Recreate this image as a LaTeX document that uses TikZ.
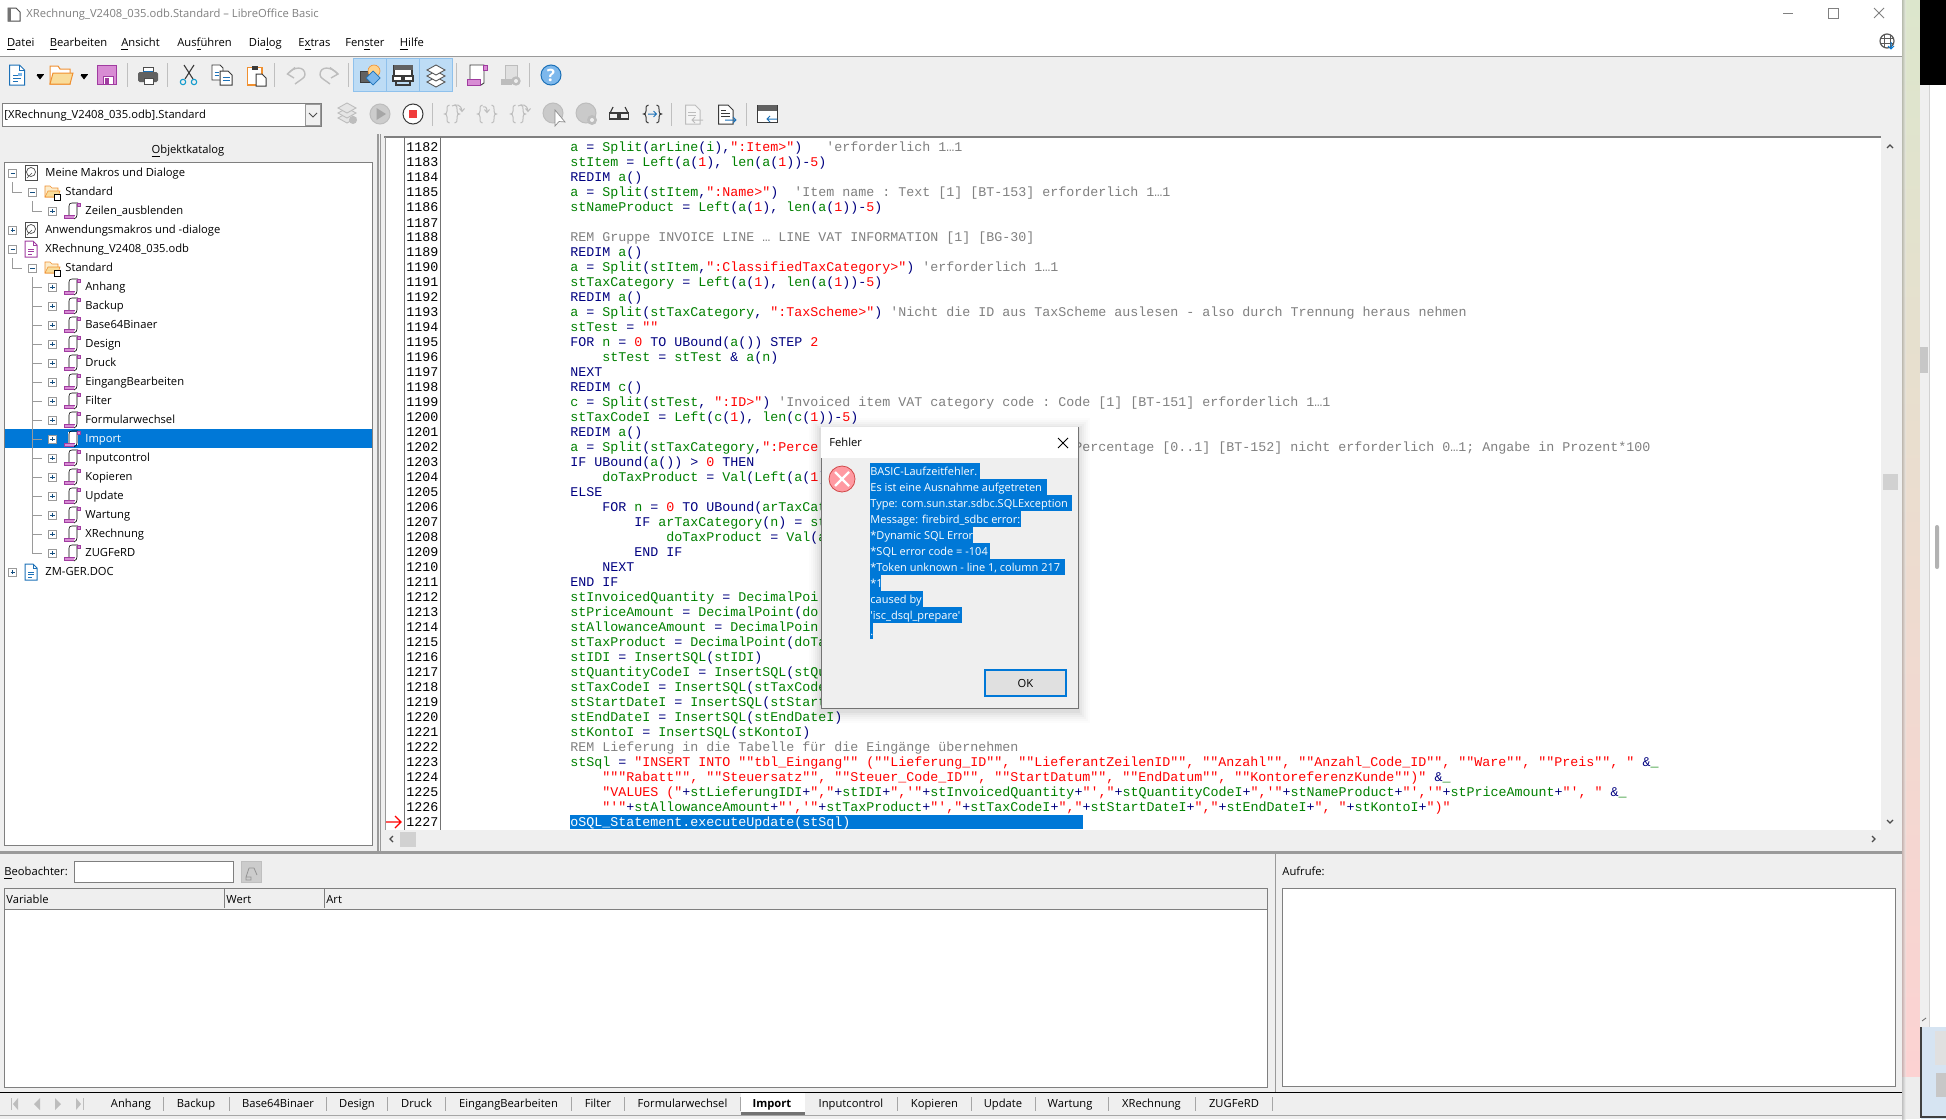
\documentclass[tikz,border=0pt]{standalone}
\usepackage{fontspec}
\setmainfont{Open Sans}[Ligatures=TeXOff]
\setmonofont{Liberation Mono}
\usetikzlibrary{calc}
\definecolor{cnavy}{HTML}{000080}
\definecolor{cgreen}{HTML}{008000}
\definecolor{cred}{HTML}{FF0000}
\definecolor{cgray}{HTML}{808080}
\definecolor{panel}{HTML}{EFEFEF}
\definecolor{sel}{HTML}{0078D7}
\definecolor{hair}{HTML}{9A9A9A}
\definecolor{frame}{HTML}{7F7F7F}
\definecolor{purp}{HTML}{A03CA0}
\definecolor{purpl}{HTML}{D88CD4}
\definecolor{iblue}{HTML}{1C71B8}
\definecolor{lblue}{HTML}{7DB8EC}
\definecolor{iorange}{HTML}{F09030}
\definecolor{lyellow}{HTML}{F9DC9A}
\definecolor{dim}{HTML}{BDBDBD}
\definecolor{dark}{HTML}{3A3A3A}
\newcommand\Gr[1]{\textcolor{cgreen}{#1}}
\newcommand\Rd[1]{\textcolor{cred}{#1}}
\newcommand\Cm[1]{\textcolor{cgray}{#1}}
\catcode`\_=12
\catcode`\&=12
\tikzset{
  ui/.style={font=\fontsize{5.6}{7}\selectfont,anchor=west,inner sep=0pt,text height=4.4pt,text depth=0.9pt},
  uic/.style={ui,anchor=center},
  dlg/.style={font=\fontsize{5.5}{7}\selectfont,anchor=west,inner sep=0pt,text height=4.4pt,text depth=1.3pt},
  lnum/.style={font=\fontsize{6.667}{8}\ttfamily,anchor=west,inner sep=0pt,text height=4.6pt,text depth=1.3pt,text=black},
  codetxt/.style={lnum,text=cnavy},
  treeline/.style={draw=hair,line width=0.4pt},
}
\newcommand\codeline[3]{%
  \pgfmathsetmacro\cy{147.7+15*(#1-1182)}%
  \pgfmathsetmacro\cx{570+8*#2}%
  \node[lnum] (N#1) at (406,\cy) {#1};
  \node[codetxt] (L#1) at (\cx,\cy) {#3};}
\newcommand\modicon[2]{\begin{scope}[shift={(#1,#2)}]
  \fill[white] (-4,-7) rectangle (6,6);
  \draw[black,line width=0.3pt] (-3,5) -- (-3,-5) .. controls (-3,-7) and (-2,-8) .. (0,-8) -- (6,-8);
  \draw[black,line width=0.3pt] (5,-7) -- (5,4) .. controls (5,6) and (4,7) .. (2,8);
  \fill[purpl] (-8,4.5) -- (3,4.5) .. controls (2,6) and (2,7) .. (2,7.5) -- (-8,7.5) -- cycle;
  \draw[purp,line width=0.25pt] (-8,4.5) -- (3,4.5) (-8,7.5) -- (2,7.5) (-8,4.5) -- (-8,7.5);
  \fill[purpl,draw=purp,line width=0.25pt] (5,-8) rectangle (8,-5);
\end{scope}}
\newcommand\expbase[2]{\draw[white,fill=white] (#1-4,#2-4) rectangle (#1+4,#2+4);\draw[draw=hair,line width=0.4pt] (#1-4,#2-4) rectangle (#1+4,#2+4);\draw[draw=iblue!70!black,line width=0.35pt] (#1-2.2,#2) -- (#1+2.2,#2);}
\newcommand\expplus[2]{\expbase{#1}{#2}\draw[draw=iblue!70!black,line width=0.35pt] (#1,#2-2.2) -- (#1,#2+2.2);}
\newcommand\folder[2]{\begin{scope}[shift={(#1,#2)}]
  \fill[lyellow!50!white,draw=iorange,line width=0.35pt] (-7,-6) -- (-2,-6) -- (0,-4) -- (6,-4) -- (6,5) -- (-7,5) -- cycle;
  \fill[lyellow,draw=iorange,line width=0.3pt] (-7,5) -- (-4,-1) -- (8,-1) -- (6,5) -- cycle;
  \fill[white,draw=black,line width=0.3pt] (2,2) rectangle (8,8);
\end{scope}}
\newcommand\diskicon[2]{\begin{scope}[shift={(#1,#2)}]
  \fill[white,draw=black!70,line width=0.4pt] (-6,-7.5) rectangle (6,7.5);
  \draw[black!70,line width=0.35pt] (0,-1) circle[radius=4.5];
  \draw[black!70,line width=0.35pt] (-4,5) -- (1,0);
\end{scope}}
\newcommand\docicon[3]{\begin{scope}[shift={(#1,#2)}]
  \fill[white,draw=#3,line width=0.5pt] (-6,-8) -- (2,-8) -- (6,-4) -- (6,8) -- (-6,8) -- cycle;
  \draw[#3,line width=0.4pt] (2,-8) -- (2,-4) -- (6,-4);
  \draw[#3,line width=0.4pt] (-3,0) -- (3,0) (-3,2.5) -- (3,2.5) (-3,5) -- (1,5);
\end{scope}}
\newcommand\bigdoc[3]{\begin{scope}[shift={(#1,#2)},scale=1.25]\docicon{0}{0}{#3}\end{scope}}
\newcommand\tri[2]{\fill[black] (#1-3.5,#2-2) -- (#1+3.5,#2-2) -- (#1,#2+2.5) -- cycle;\fill[black] (#1-3.5,#2-3.2) rectangle (#1+3.5,#2-2.4);}
\newcommand\brL[3]{\draw[#3,line width=0.5pt] (#1+3.5,#2-9) .. controls (#1+1,#2-9) and (#1+1,#2-7) .. (#1+1,#2-5) -- (#1+1,#2-3) .. controls (#1+1,#2-1) and (#1,#2) .. (#1-1.5,#2) .. controls (#1,#2) and (#1+1,#2+1) .. (#1+1,#2+3) -- (#1+1,#2+5) .. controls (#1+1,#2+7) and (#1+1,#2+9) .. (#1+3.5,#2+9);}
\newcommand\brR[3]{\draw[#3,line width=0.5pt] (#1-3.5,#2-9) .. controls (#1-1,#2-9) and (#1-1,#2-7) .. (#1-1,#2-5) -- (#1-1,#2-3) .. controls (#1-1,#2-1) and (#1,#2) .. (#1+1.5,#2) .. controls (#1,#2) and (#1-1,#2+1) .. (#1-1,#2+3) -- (#1-1,#2+5) .. controls (#1-1,#2+7) and (#1-1,#2+9) .. (#1-3.5,#2+9);}
\begin{document}
\begin{tikzpicture}[x=0.5pt,y=-0.5pt]
\useasboundingbox (0,0) rectangle (1946,1119);
% ---------- backgrounds
\fill[white] (0,0) rectangle (1946,1119);
\fill[panel] (0,56) rectangle (1902,1119);
\draw[hair,line width=0.5pt] (0,56) -- (1902,56);
% right of the window
\definecolor{stripT}{HTML}{DCE6CC}\definecolor{stripM}{HTML}{EADFCF}\definecolor{stripB}{HTML}{FCD2D2}
\shade[top color=stripT,middle color=stripM,bottom color=stripB] (1902,0) rectangle (1920,1077);
\fill[black!7] (1902,1077) rectangle (1920,1119);
\shade[left color=black!45,right color=black!0,opacity=.45] (1902,0) rectangle (1906,1119);
\fill[black] (1920,0) rectangle (1946,85);
\fill[panel] (1920,85) rectangle (1929,1027);
\draw[black!18,line width=0.4pt] (1929.5,85) -- (1929.5,1027);
\fill[black!22] (1920,347) rectangle (1928,373);
\fill[black!30,rounded corners=1pt] (1935,525) rectangle (1939,569);
\draw[black!60,line width=0.4pt] (1922,1021) -- (1926,1018);
\definecolor{cornerb}{HTML}{D6E4F2}
\fill[cornerb] (1921,1027) rectangle (1946,1119);
\draw[black!75,line width=0.7pt] (1921,1027) -- (1921,1117) -- (1946,1117);
\fill[black!12] (1935,1031) rectangle (1946,1065);
\fill[black!22] (1936,1073) rectangle (1946,1097);
% ---------- title bar
\fill[white,draw=black!70,line width=0.5pt] (8,8) -- (16,8) -- (20,12) -- (20,21) -- (8,21) -- cycle;
\fill[black!55] (8,8) rectangle (11,21);
\node[ui,text=cgray] (title) at (26,14) {XRechnung_V2408_035.odb.Standard – LibreOffice Basic};
\draw[black!50,line width=0.5pt] (1783,13) -- (1793,13);
\draw[black!50,line width=0.5pt] (1828.5,8.5) rectangle (1838,18);
\draw[black!50,line width=0.5pt] (1874,8) -- (1884,18) (1884,8) -- (1874,18);
\draw[black!65,line width=0.6pt] (1887,41) circle[radius=7];
\draw[black!65,line width=0.4pt] (1880,38.5) -- (1894,38.5) (1880,43.5) -- (1894,43.5) (1884,34.5) -- (1884,47.5) (1890,34.5) -- (1890,47.5);
\draw[sel,line width=0.5pt] (1891,42) -- (1891,49) (1888,46) -- (1891,49) -- (1894,46);
% ---------- menu
\node[ui] (mDatei) at (6.6,43) {\underline{D}atei};
\node[ui] (mBearb) at (49.5,43) {\underline{B}earbeiten};
\node[ui] (mAns) at (121,43) {\underline{A}nsicht};
\node[ui] (mAusf) at (177,43) {Aus\underline{f}ühren};
\node[ui] (mDial) at (248.5,43) {Dia\underline{l}og};
\node[ui] (mExtr) at (298,43) {E\underline{x}tras};
\node[ui] (mFen) at (345,43) {Fen\underline{s}ter};
\node[ui] (mHil) at (399.5,43) {\underline{H}ilfe};
% ---------- toolbar row 1
\foreach \sx in {127,167,274,348,456,529} \draw[black!25,line width=0.4pt] (\sx,63) -- (\sx,87);
\definecolor{tsel}{HTML}{BDDCF5}\definecolor{tselb}{HTML}{8FC1EC}
\fill[tsel,draw=tselb,line width=0.4pt] (353,58.5) rectangle (452,91);
\draw[tselb,line width=0.4pt] (386,58.5) -- (386,91) (419,58.5) -- (419,91);
\bigdoc{17}{75}{iblue}
\fill[lblue] (18,73) rectangle (22,76);
\tri{40}{77}
\fill[white,draw=iorange,line width=0.5pt] (50,84) -- (50,66) -- (58,66) -- (60,69) -- (70,69) -- (70,84) -- cycle;
\fill[lyellow,draw=iorange,line width=0.5pt] (50,84) -- (53,73) -- (73,73) -- (70,84) -- cycle;
\tri{84}{77}
\fill[purpl,draw=purp,line width=0.7pt] (97.5,65.5) rectangle (116.5,84.5);
\fill[white,draw=purp,line width=0.4pt] (103,76) rectangle (113,84.5);
\fill[purp] (105,78) rectangle (108.5,84.5);
\fill[white,draw=black!70,line width=0.4pt] (143,67) rectangle (153,75);
\fill[iblue] (143,71) rectangle (153,75);
\fill[black!62,rounded corners=0.8pt] (138,72) rectangle (158,82);
\fill[white,draw=black!70,line width=0.4pt] (144,78) rectangle (153,84);
\draw[dark,line width=0.55pt] (184,65) -- (193,79) (194,65) -- (185,79);
\draw[iblue!70!cyan,line width=0.55pt] (183,82) circle[radius=2.7] (194,82) circle[radius=2.7];
\fill[white,draw=dark,line width=0.45pt] (212,65) -- (220,65) -- (223,68) -- (223,80) -- (212,80) -- cycle;
\draw[iblue,line width=0.4pt] (214.5,72) -- (219,72) (214.5,75) -- (219,75);
\fill[white,draw=dark,line width=0.5pt] (220,71) -- (228,71) -- (232,75) -- (232,85) -- (220,85) -- cycle;
\draw[iblue,line width=0.5pt] (222.5,77) -- (229.5,77) (222.5,80) -- (229.5,80);
\fill[white,draw=iorange,line width=0.6pt] (247.5,67.5) rectangle (262,85);
\fill[dark] (252,65.5) rectangle (258,70);
\fill[white,draw=dark,line width=0.5pt] (256,74) -- (262,74) -- (266,78) -- (266,86) -- (256,86) -- cycle;
\draw[dim,line width=0.7pt] (295,67.5) -- (287.5,74) -- (294,78);
\draw[dim,line width=0.7pt] (287.5,74) .. controls (294,66) and (305,66) .. (305,74.7) .. controls (305,78) and (300,80) .. (295,84);
\draw[dim,line width=0.7pt] (330,67.5) -- (338,74) -- (331,78);
\draw[dim,line width=0.7pt] (338,74) .. controls (331,66) and (320,66) .. (320,74.7) .. controls (320,78) and (325,80) .. (330,84);
\fill[black!62,draw=dark,line width=0.3pt] (360,71) rectangle (373,82);
\definecolor{psun}{HTML}{FFD28A}
\fill[psun,draw=iorange,line width=0.3pt] (374,71) circle[radius=6];
\fill[lblue,draw=iblue,line width=0.35pt] (373,71) -- (380,78) -- (373,85) -- (366,78) -- cycle;
\fill[white,draw=dark,line width=0.6pt] (394,66) -- (412,66) -- (412,76) -- (394,76) -- cycle;
\fill[black!62] (393.5,65) rectangle (412.5,69.5);
\fill[white,draw=dark,line width=0.6pt] (393,76) rectangle (402,81);
\fill[white,draw=dark,line width=0.6pt] (404,76) rectangle (413,81);
\draw[dark,line width=0.6pt] (396,81) -- (396,85) -- (410,85) -- (410,81);
\foreach \dy in {12,6,0} \fill[white,draw=black!65,line width=0.45pt] (436,65+\dy) -- (445,70+\dy) -- (436,75+\dy) -- (427,70+\dy) -- cycle;
\fill[white,draw=dark,line width=0.45pt] (470,65) -- (484,65) -- (484,83) -- (481,85) -- (470,85) -- cycle;
\fill[purpl,draw=purp,line width=0.3pt] (483,65) rectangle (487,70);
\fill[purpl,draw=purp,line width=0.3pt] (467,79) rectangle (480,85);
\fill[black!12,draw=dim,line width=0.4pt] (505,65) -- (517,65) -- (517,83) -- (505,83) -- cycle;
\fill[dim] (501,79) rectangle (512,85);
\fill[dim] (516,81) circle[radius=4.7];
\fill[panel] (516,81) circle[radius=2];
\fill[lblue,draw=iblue,line width=0.5pt] (551,75) circle[radius=10];
\node[uic,text=white,font=\fontsize{8.5}{9}\bfseries\selectfont,text height=6pt,text depth=0pt] (help) at (551,75) {?};
% ---------- toolbar row 2
\fill[white,draw=frame,line width=0.5pt] (2.5,103) rectangle (321,126);
\fill[black!6,draw=black!40,line width=0.3pt] (305,104) rectangle (320.5,125.5);
\draw[black!70,line width=0.4pt] (309,113) -- (313,117) -- (317,113);
\node[ui] (cbtxt) at (4,115) {[XRechnung_V2408_035.odb].Standard};
\foreach \sx in {432,671,746} \draw[black!25,line width=0.4pt] (\sx,103) -- (\sx,126);
\foreach \dy in {10,5,0} \fill[black!10,draw=dim,line width=0.45pt] (347,103+\dy) -- (356,108+\dy) -- (347,113+\dy) -- (338,108+\dy) -- cycle;
\fill[dim] (353,120) circle[radius=4];
\fill[black!20,draw=dim,line width=0.5pt] (380,114) circle[radius=10];
\fill[black!35] (376.5,108) -- (386,114) -- (376.5,120) -- cycle;
\fill[white,draw=dark,line width=0.5pt] (413,114) circle[radius=10];
\definecolor{stopr}{HTML}{F03C3C}
\fill[stopr] (409,110) rectangle (417,118);
\brL{446}{114}{dim}\brR{458}{114}{dim}
\draw[dim,line width=0.5pt] (452,106) .. controls (456,104) and (461,104) .. (462,111) (459.5,108.5) -- (462,111.5) -- (464.5,108.5);
\brL{479}{114}{dim}\brR{495}{114}{dim}
\draw[dim,line width=0.5pt] (483,107) .. controls (486,106) and (487,108) .. (487,112) (484.5,109.5) -- (487,112.5) -- (489.5,109.5);
\brL{512}{114}{dim}\brR{524}{114}{dim}
\draw[dim,line width=0.5pt] (518,106) .. controls (522,104) and (527,104) .. (528,111) (525.5,108.5) -- (528,111.5) -- (530.5,108.5);
\fill[dim!80!white,draw=dim,line width=0.5pt] (553,113) circle[radius=10];
\fill[white,draw=black!45,line width=0.35pt] (555,110) -- (555,126) -- (559,121.5) -- (565,122) -- cycle;
\fill[dim!80!white,draw=dim,line width=0.5pt] (586,113) circle[radius=10];
\fill[dim] (592,120) circle[radius=5];
\fill[panel] (592,120) circle[radius=2];
\draw[dark,line width=0.55pt] (609.5,113) rectangle (618,119) (620,113) rectangle (628.5,119);
\draw[dark,line width=0.55pt] (618,114.5) -- (620,114.5) (610,113) -- (613,107) (628,113) -- (625,107);
\brL{645}{114}{dark}\brR{660}{114}{dark}
\draw[iblue,line width=0.5pt] (648,114) -- (656,114) (653.5,111) -- (656.5,114) -- (653.5,117);
\fill[black!4,draw=dim,line width=0.5pt] (685.5,105) -- (695,105) -- (700,110) -- (700,124) -- (685.5,124) -- cycle;
\draw[dim,line width=0.4pt] (688,112) -- (696,112) (688,115) -- (696,115);
\draw[dim,line width=0.5pt] (692,120) -- (703,120) (695,117) -- (692,120) -- (695,123);
\fill[white,draw=dark,line width=0.5pt] (718.5,105) -- (728,105) -- (733,110) -- (733,124) -- (718.5,124) -- cycle;
\draw[dark,line width=0.4pt] (721,110) -- (726,110) (721,113) -- (730,113) (721,116) -- (730,116);
\draw[iblue,line width=0.5pt] (725,120) -- (736,120) (733,117) -- (736,120) -- (733,123);
\fill[white,draw=dark,line width=0.5pt] (757.5,105) rectangle (777,122);
\fill[black!62] (757.5,105) rectangle (777,111);
\draw[iblue,line width=0.5pt] (767,119) -- (777,119) (770,116) -- (767,119) -- (770,122);
% ---------- object catalogue
\node[uic] (okat) at (188,150) {\underline{O}bjektkatalog};
\fill[white,draw=frame,line width=0.5pt] (4,162) rectangle (372,845);
\fill[sel] (5,429) rectangle (371.5,448);
\foreach \sx in {378,380.5} \draw[hair,line width=0.6pt] (\sx,134) -- (\sx,852);
% tree lines
\draw[treeline] (12.3,182) -- (12.3,192) -- (22,192);
\draw[treeline] (32,201) -- (32,211) -- (42,211);
\draw[treeline] (12.3,258) -- (12.3,268) -- (22,268);
\draw[treeline] (32,277) -- (32,553);
\foreach \k in {6,...,20}{\pgfmathsetmacro\ry{173+19*\k}\draw[treeline] (32,\ry) -- (42,\ry);}
% rows
\node[ui] (t0) at (45,173) {Meine Makros und Dialoge};
\expbase{12.7}{173}\diskicon{31}{173}
\node[ui] (t1) at (65,192) {Standard};
\expbase{32.3}{192}\folder{52}{192}
\node[ui] (t2) at (85,211) {Zeilen_ausblenden};
\expplus{52.3}{211}\modicon{72}{211}
\node[ui] (t3) at (45,230) {Anwendungsmakros und -dialoge};
\expplus{12.7}{230}\diskicon{31}{230}
\node[ui] (t4) at (45,249) {XRechnung_V2408_035.odb};
\expbase{12.7}{249}\docicon{31}{249}{purp}
\node[ui] (t5) at (65,268) {Standard};
\expbase{32.3}{268}\folder{52}{268}
\foreach \k/\t in {6/Anhang,7/Backup,8/Base64Binaer,9/Design,10/Druck,11/EingangBearbeiten,12/Filter,13/Formularwechsel,15/Inputcontrol,16/Kopieren,17/Update,18/Wartung,19/XRechnung,20/ZUGFeRD}{
  \pgfmathsetmacro\ry{173+19*\k}
  \node[ui] (t\k) at (85,\ry) {\t};
  \expplus{52.3}{\ry}\modicon{72}{\ry}
}
\node[ui,text=white] (t14) at (85,439) {Import};
\expplus{52.3}{439}\modicon{72}{439}
\node[ui] (t21) at (45,572) {ZM-GER.DOC};
\expplus{12.7}{572}\docicon{31}{572}{iblue}
% ---------- editor
\fill[white] (385,137) rectangle (1881,830);
\draw[frame,line width=0.9pt] (384,137) -- (1881,137);
\draw[black!40,line width=0.5pt] (385,137) -- (385,830);
\draw[black!55,line width=0.8pt] (404.5,137) -- (404.5,830) (440.5,137) -- (440.5,830);
\fill[sel] (570,815) rectangle (1083,829);
\codeline{1182}{0}{\Gr{a} = \Gr{Split}(\Gr{arLine}(\Gr{i}),\Rd{":Item>"})~~~\Cm{'erforderlich 1…1}}
\codeline{1183}{0}{\Gr{stItem} = \Gr{Left}(\Gr{a}(\Rd{1}), \Gr{len}(\Gr{a}(\Rd{1}))-\Rd{5})}
\codeline{1184}{0}{REDIM \Gr{a}()}
\codeline{1185}{0}{\Gr{a} = \Gr{Split}(\Gr{stItem},\Rd{":Name>"})~~\Cm{'Item name : Text [1] [BT-153] erforderlich 1…1}}
\codeline{1186}{0}{\Gr{stNameProduct} = \Gr{Left}(\Gr{a}(\Rd{1}), \Gr{len}(\Gr{a}(\Rd{1}))-\Rd{5})}
\node[lnum] (N1187) at (406,222.7+1) {1187};
\codeline{1188}{0}{\Cm{REM Gruppe INVOICE LINE … LINE VAT INFORMATION [1] [BG-30]}}
\codeline{1189}{0}{REDIM \Gr{a}()}
\codeline{1190}{0}{\Gr{a} = \Gr{Split}(\Gr{stItem},\Rd{":ClassifiedTaxCategory>"}) \Cm{'erforderlich 1…1}}
\codeline{1191}{0}{\Gr{stTaxCategory} = \Gr{Left}(\Gr{a}(\Rd{1}), \Gr{len}(\Gr{a}(\Rd{1}))-\Rd{5})}
\codeline{1192}{0}{REDIM \Gr{a}()}
\codeline{1193}{0}{\Gr{a} = \Gr{Split}(\Gr{stTaxCategory}, \Rd{":TaxScheme>"}) \Cm{'Nicht die ID aus TaxScheme auslesen - also durch Trennung heraus nehmen}}
\codeline{1194}{0}{\Gr{stTest} = \Rd{""}}
\codeline{1195}{0}{FOR \Gr{n} = \Rd{0} TO UBound(\Gr{a}()) STEP \Rd{2}}
\codeline{1196}{4}{\Gr{stTest} = \Gr{stTest} & \Gr{a}(\Gr{n})}
\codeline{1197}{0}{NEXT}
\codeline{1198}{0}{REDIM \Gr{c}()}
\codeline{1199}{0}{\Gr{c} = \Gr{Split}(\Gr{stTest}, \Rd{":ID>"}) \Cm{'Invoiced item VAT category code : Code [1] [BT-151] erforderlich 1…1}}
\codeline{1200}{0}{\Gr{stTaxCodeI} = \Gr{Left}(\Gr{c}(\Rd{1}), \Gr{len}(\Gr{c}(\Rd{1}))-\Rd{5})}
\codeline{1201}{0}{REDIM \Gr{a}()}
\codeline{1202}{0}{\Gr{a} = \Gr{Split}(\Gr{stTaxCategory},\Rd{":Perce}}
\node[codetxt,text=cgray] (L1202b) at (1074,447.7) {Percentage [0..1] [BT-152] nicht erforderlich 0…1; Angabe in Prozent*100};
\codeline{1203}{0}{IF UBound(\Gr{a}()) > \Rd{0} THEN}
\codeline{1204}{4}{\Gr{doTaxProduct} = \Gr{Val}(\Gr{Left}(\Gr{a}(\Rd{1}))}
\codeline{1205}{0}{ELSE}
\codeline{1206}{4}{FOR \Gr{n} = \Rd{0} TO UBound(\Gr{arTaxCat}}
\codeline{1207}{8}{IF \Gr{arTaxCategory}(\Gr{n}) = \Gr{st}}
\codeline{1208}{12}{\Gr{doTaxProduct} = \Gr{Val}(\Gr{a}}
\codeline{1209}{8}{END IF}
\codeline{1210}{4}{NEXT}
\codeline{1211}{0}{END IF}
\codeline{1212}{0}{\Gr{stInvoicedQuantity} = \Gr{DecimalPoi}}
\codeline{1213}{0}{\Gr{stPriceAmount} = \Gr{DecimalPoint}(\Gr{do}}
\codeline{1214}{0}{\Gr{stAllowanceAmount} = \Gr{DecimalPoin}}
\codeline{1215}{0}{\Gr{stTaxProduct} = \Gr{DecimalPoint}(\Gr{doTa}}
\codeline{1216}{0}{\Gr{stIDI} = \Gr{InsertSQL}(\Gr{stIDI})}
\codeline{1217}{0}{\Gr{stQuantityCodeI} = \Gr{InsertSQL}(\Gr{stQu}}
\codeline{1218}{0}{\Gr{stTaxCodeI} = \Gr{InsertSQL}(\Gr{stTaxCode}}
\codeline{1219}{0}{\Gr{stStartDateI} = \Gr{InsertSQL}(\Gr{stStart}}
\codeline{1220}{0}{\Gr{stEndDateI} = \Gr{InsertSQL}(\Gr{stEndDateI})}
\codeline{1221}{0}{\Gr{stKontoI} = \Gr{InsertSQL}(\Gr{stKontoI})}
\codeline{1222}{0}{\Cm{REM Lieferung in die Tabelle für die Eingänge übernehmen}}
\codeline{1223}{0}{\Gr{stSql} = \Rd{"INSERT INTO ""tbl_Eingang"" (""Lieferung_ID"", ""LieferantZeilenID"", ""Anzahl"", ""Anzahl_Code_ID"", ""Ware"", ""Preis"", "} &\Gr{_}}
\codeline{1224}{4}{\Rd{"""Rabatt"", ""Steuersatz"", ""Steuer_Code_ID"", ""StartDatum"", ""EndDatum"", ""KontoreferenzKunde"")"} &\Gr{_}}
\codeline{1225}{4}{\Rd{"VALUES ("}+\Gr{stLieferungIDI}+\Rd{","}+\Gr{stIDI}+\Rd{",'"}+\Gr{stInvoicedQuantity}+\Rd{"',"}+\Gr{stQuantityCodeI}+\Rd{",'"}+\Gr{stNameProduct}+\Rd{"','"}+\Gr{stPriceAmount}+\Rd{"', "} &\Gr{_}}
\codeline{1226}{4}{\Rd{"'"}+\Gr{stAllowanceAmount}+\Rd{"','"}+\Gr{stTaxProduct}+\Rd{"',"}+\Gr{stTaxCodeI}+\Rd{","}+\Gr{stStartDateI}+\Rd{","}+\Gr{stEndDateI}+\Rd{", "}+\Gr{stKontoI}+\Rd{")"}}
\node[lnum] (N1227) at (406,822.7) {1227};
\node[codetxt,text=white] (L1227) at (570,822.7) {oSQL_Statement.executeUpdate(stSql)};
\draw[cred,line width=0.6pt] (386,822) -- (401,822) (395,816) -- (401,822) -- (395,828);
% scrollbars of the editor
\draw[black!70,line width=0.6pt] (1887,148) -- (1890,145) -- (1893,148);
\draw[black!70,line width=0.6pt] (1887,820) -- (1890,823) -- (1893,820);
\fill[black!18] (1883,474) rectangle (1898,490);
\draw[black!70,line width=0.6pt] (393,836) -- (390,839) -- (393,842);
\fill[black!18] (400,832) rectangle (416,847);
\draw[black!70,line width=0.6pt] (1872,836) -- (1875,839) -- (1872,842);
% ---------- dividers
\draw[hair,line width=1.2pt] (0,852.5) -- (1902,852.5);
\draw[hair,line width=0.9pt] (1275.5,853) -- (1275.5,1092);
% ---------- watch panel
\node[ui] (beo) at (4,872) {\underline{B}eobachter:};
\fill[white,draw=frame,line width=0.5pt] (74.5,861) rectangle (233.5,882);
\fill[black!20,draw=black!25,line width=0.3pt] (241,861) rectangle (261,882);
\draw[black!42,line width=0.4pt] (246,877) rectangle (251,880) (249,868) -- (246,877) (254,868) -- (257,875) (249,868) -- (254,868);
\fill[white,draw=frame,line width=0.5pt] (4,888) rectangle (1267,1087);
\fill[panel] (4.5,888.5) rectangle (1266.5,909);
\draw[frame,line width=0.8pt] (4,909.5) -- (1267,909.5);
\draw[frame,line width=0.4pt] (224,889) -- (224,908) (324,889) -- (324,908);
\node[ui] (hVar) at (6,900) {Variable};
\node[ui] (hWert) at (226,900) {Wert};
\node[ui] (hArt) at (326,900) {Art};
\node[ui] (auf) at (1282,872) {Aufrufe:};
\fill[white,draw=frame,line width=0.5pt] (1282,888.5) rectangle (1895,1086);
% ---------- tab bar
\draw[black,line width=0.5pt] (0,1092) -- (1902,1092);
\draw[black!35,line width=0.5pt] (0,1115) -- (1902,1115);
\fill[white] (741,1092.5) rectangle (805,1115);
\fill[black!55] (741,1112) rectangle (805,1115);
\foreach \sx in {163,229,326,387,445.5,571,624,740,897,971,1035,1108,1195,1272} \draw[black!35,line width=0.4pt] (\sx,1097) -- (\sx,1111);
\foreach \tx/\tn in {131/Anhang,196/Backup,278/Base64Binaer,357/Design,416.5/Druck,508.5/EingangBearbeiten,598/Filter,682.5/Formularwechsel,851/Inputcontrol,934.5/Kopieren,1003/Update,1070/Wartung,1151.5/XRechnung,1234/ZUGFeRD}{
  \node[uic] (tab\tn) at (\tx,1104) {\tn};
}
\node[uic,font=\fontsize{5.6}{7}\bfseries\selectfont] (tabImport) at (772,1104) {Import};
\draw[dim,line width=0.3pt] (11,1098) -- (11,1110);
\fill[dim] (18,1098) -- (13,1104) -- (18,1110) -- cycle;
\fill[dim] (40,1098) -- (34,1104) -- (40,1110) -- cycle;
\fill[dim] (55,1098) -- (61,1104) -- (55,1110) -- cycle;
\fill[dim] (76,1098) -- (81,1104) -- (76,1110) -- cycle;
\draw[dim,line width=0.3pt] (83,1098) -- (83,1110);
% ---------- error dialog
\foreach \e/\o in {12/.012,10/.015,8/.018,6/.022,4/.028,2/.035}
  \fill[black,opacity=\o] (821-\e,427-\e+3) rectangle (1078+\e,708+\e+3);
\fill[panel,draw=black!55,line width=0.5pt] (821,427) rectangle (1078,708);
\fill[white] (821.3,427.3) rectangle (1077.7,458);
\node[ui] (dlgT) at (829,443) {Fehler};
\draw[black,line width=0.5pt] (1058,438) -- (1068,448) (1068,438) -- (1058,448);
\definecolor{errf}{HTML}{FF9AA2}\definecolor{errb}{HTML}{D04848}
\fill[errf,draw=errb,line width=0.4pt] (842,479) circle[radius=13];
\draw[white,line width=1.1pt] (835,472) -- (849,486) (849,472) -- (835,486);
\foreach \k/\re/\t in {0/980/BASIC-Laufzeitfehler.,1/1047/Es ist eine Ausnahme aufgetreten,2/1072/Type: com.sun.star.sdbc.SQLException,3/1021/Message: firebird_sdbc error:,4/973/*Dynamic SQL Error,5/990/*SQL error code = -104,6/1065/{*Token unknown - line 1, column 217},7/881/*1,8/923/caused by,9/962/'isc_dsql_prepare',10/873/.}{
  \pgfmathsetmacro\ry{463+16*\k}
  \fill[sel] (870,\ry) rectangle (\re,\ry+16);
  \node[dlg,text=white] (d\k) at (870,\ry+9) {\t};
}
\node[uic,fill=black!12,draw=sel,line width=1pt,minimum width=40.5pt,minimum height=13pt,text height=4.4pt,text depth=0pt] (okb) at (1025.5,683) {OK};
\end{tikzpicture}
\end{document}
